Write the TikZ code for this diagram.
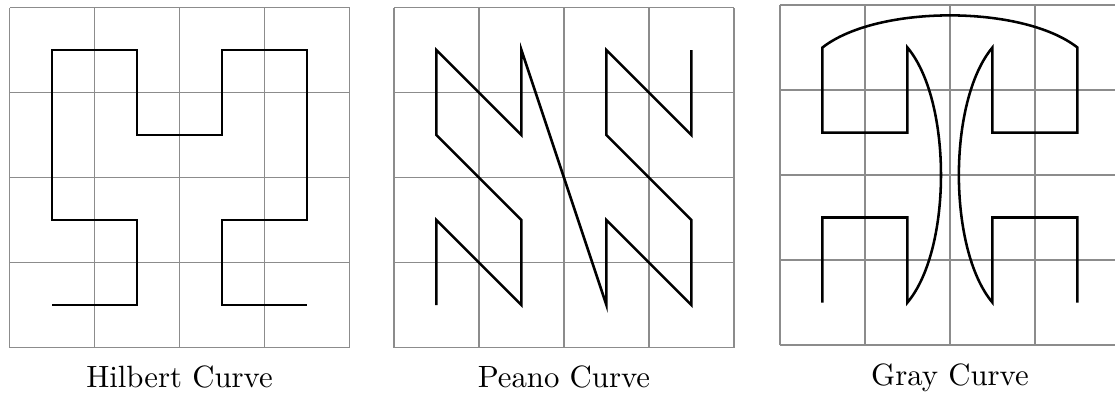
\documentclass[tikz,border=0pt]{standalone}
\begin{document}
\begin{tikzpicture}[x=1cm,y=1cm,
  gridline/.style={draw=black!45,line width=0.4pt},
  curveline/.style={draw=black,line width=0.85pt,line join=miter},
  caption/.style={anchor=base,inner sep=0pt,font=\fontsize{10.3pt}{12pt}\selectfont}]
\useasboundingbox (0,0) rectangle (13.118,4.635);
% Hilbert
\begin{scope}[shift={(0.112,0.545)}]
  \draw[gridline] (0,0) grid (4,4);
  \draw[curveline] (0.5,0.5) -- (1.5,0.5) -- (1.5,1.5) -- (0.5,1.5) -- (0.5,3.5) -- (1.5,3.5) -- (1.5,2.5) -- (2.5,2.5) -- (2.5,3.5) -- (3.5,3.5) -- (3.5,1.5) -- (2.5,1.5) -- (2.5,0.5) -- (3.5,0.5);
  \node[caption] (hilbert) at (2,-0.468) {Hilbert Curve};
\end{scope}
% Peano
\begin{scope}[shift={(4.635,0.545)}]
  \draw[gridline] (0,0) grid (4,4);
  \draw[curveline] (0.5,0.5) -- (0.5,1.5) -- (1.5,0.5) -- (1.5,1.5) -- (0.5,2.5) -- (0.5,3.5) -- (1.5,2.5) -- (1.5,3.5) -- (2.5,0.5) -- (2.5,1.5) -- (3.5,0.5) -- (3.5,1.5) -- (2.5,2.5) -- (2.5,3.5) -- (3.5,2.5) -- (3.5,3.5);
  \node[caption] (peano) at (2,-0.468) {Peano Curve};
\end{scope}
% Gray
\begin{scope}[shift={(9.176,0.576)}]
  \draw[gridline] (0,0) grid (4,4);
  \draw[curveline] (0.5,0.5) -- (0.5,1.5) -- (1.5,1.5) -- (1.5,0.5)
    to[out=50,in=-50,looseness=0.7] (1.5,3.5) -- (1.5,2.5) -- (0.5,2.5) -- (0.5,3.5)
    to[out=38,in=142,looseness=0.7] (3.5,3.5) -- (3.5,2.5) -- (2.5,2.5) -- (2.5,3.5)
    to[out=-130,in=130,looseness=0.7] (2.5,0.5) -- (2.5,1.5) -- (3.5,1.5) -- (3.5,0.5);
  \node[caption] (gray) at (2,-0.48) {Gray Curve};
\end{scope}
\end{tikzpicture}
\end{document}
